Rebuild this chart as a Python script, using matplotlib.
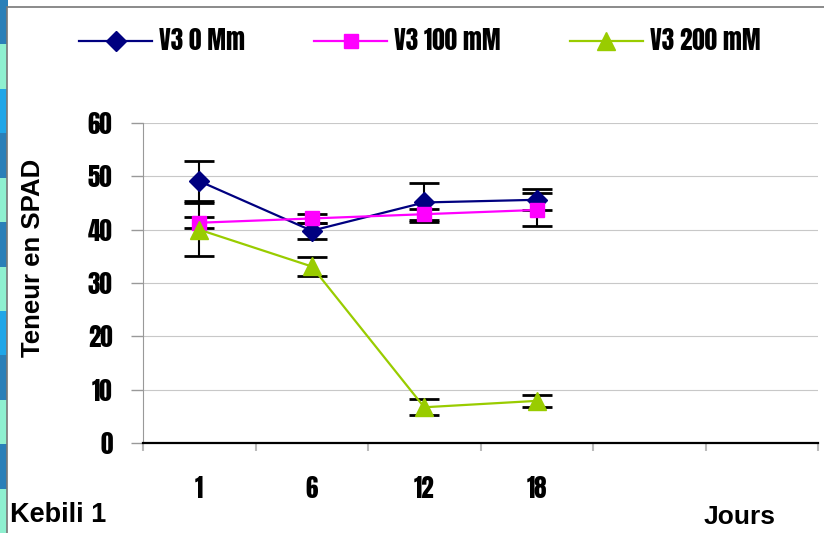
import matplotlib
matplotlib.use("Agg")
import matplotlib.pyplot as plt
from matplotlib.patches import Rectangle
from matplotlib.lines import Line2D

categories = ["1", "6", "12", "18", "", ""]
series_names = ["V3 0 Mm", "V3 100 mM", "V3 200 mM"]
v0 = [49.1, 39.8, 45.1, 45.6]
v0_err = [3.7, 1.5, 3.7, 2.0]
v100 = [41.3, 42.1, 42.9, 43.7]
v100_err = [1.0, 0.8, 1.0, 3.1]
v200 = [40.0, 33.1, 6.7, 7.9]
v200_err = [5.0, 1.8, 1.5, 1.1]
colors = ["#000080", "#FF00FF", "#99CC00"]
markers = ["D", "s", "^"]
yticks = [0, 10, 20, 30, 40, 50, 60]

W, H = 824, 533
fig = plt.figure(figsize=(W / 100, H / 100), dpi=100)
fig.patch.set_facecolor("white")

strip_cols = ["#2a7fb8", "#8ff0d0", "#1fa6e8", "#2a7fb8", "#8ff0d0"]
n = 12
for i in range(n):
    y0 = 1 - (i + 1) / n
    fig.patches.append(Rectangle((0, y0), 8 / W, 1 / n, transform=fig.transFigure,
                                 facecolor=strip_cols[i % len(strip_cols)], edgecolor="none", zorder=-2))
fig.patches.append(Rectangle((7 / W, -0.01), 1.0, 1 - 7 / H + 0.01, transform=fig.transFigure,
                             facecolor="white", edgecolor="#777777", linewidth=1.2, zorder=-1))

ax = fig.add_axes([143 / W, (H - 443) / H, (818 - 143) / W, (443 - 123) / H], zorder=2)
ax.set_facecolor("none")
x = list(range(len(v0)))
data = [(v0, v0_err), (v100, v100_err), (v200, v200_err)]
msizes = [10, 10, 13]
for (vals, errs), c, m, name, ms in zip(data, colors, markers, series_names, msizes):
    ax.errorbar(x, vals, yerr=errs, color=c, marker=m, markersize=ms, linewidth=1.6,
                ecolor="black", elinewidth=1.5, capsize=11, capthick=2,
                markeredgecolor=c, label=name, zorder=3)

ax.set_xlim(-0.5, len(categories) - 0.5)
ax.set_ylim(0, 60)
ax.set_yticks(yticks)
ax.set_yticklabels([str(t) for t in yticks])
ax.set_xticks(range(len(categories)))
ax.set_xticklabels(categories)
ax.set_xticks([i - 0.5 for i in range(len(categories) + 1)], minor=True)
ax.tick_params(axis="x", which="major", length=0, pad=23.5)
ax.tick_params(axis="x", which="minor", length=6, color="#bbbbbb", width=1.5)
ax.tick_params(axis="y", length=8.5, color="#999999", width=1, pad=13.5)
impact = ["Anton", "DejaVu Sans"]
for lab in ax.get_xticklabels() + ax.get_yticklabels():
    lab.set_fontfamily(impact)
    lab.set_fontsize(18)
ax.grid(axis="y", color="#c8c8c8", linewidth=0.8)
ax.set_axisbelow(True)
for s in ["top", "right"]:
    ax.spines[s].set_visible(False)
ax.spines["left"].set_color("#999999")
ax.spines["bottom"].set_color("black")
ax.spines["bottom"].set_linewidth(1.6)

fig.text(33 / W, (H - 258) / H, "Teneur en SPAD", rotation=90, ha="center", va="center",
         fontsize=18.5, fontweight="bold", family=["Liberation Sans", "DejaVu Sans"])
fig.text(10 / W, (H - 515) / H, "Kebili 1", ha="left", va="center",
         fontsize=19.5, fontweight="bold", family=["Liberation Sans", "DejaVu Sans"])
fig.text(740 / W, (H - 517) / H, "Jours", ha="center", va="center",
         fontsize=19, fontweight="bold", family=["Liberation Sans", "DejaVu Sans"])

leg = fig.legend([Line2D([], [], color=c, marker=m, markersize=ms, linewidth=1.6, markeredgecolor=c)
                  for c, m, ms in zip(colors, markers, msizes)],
                 series_names, loc="center", bbox_to_anchor=(420 / W, 1 - 40 / H), ncol=3,
                 frameon=False, handlelength=2.9, columnspacing=2.76, handletextpad=0.3,
                 borderpad=0, borderaxespad=0,
                 prop=dict(family=impact, size=18))

fig.savefig("out.png", dpi=100)
